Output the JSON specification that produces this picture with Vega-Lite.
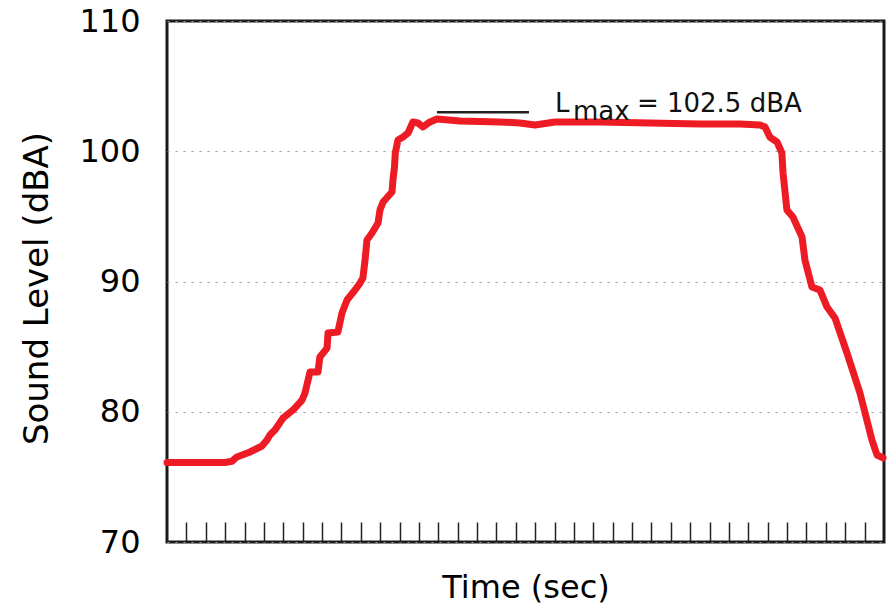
{
  "$schema": "https://vega.github.io/schema/vega-lite/v6.json",
  "width": 717,
  "height": 521,
  "autosize": {"type": "none"},
  "padding": {"left": 167, "top": 21, "right": 9, "bottom": 73},
  "background": "white",
  "config": {"view": {"stroke": "#1a1a1a", "strokeWidth": 3}, "font": "DejaVu Sans"},
  "datasets": {
    "curve": [
      {"t": 0, "v": 76.1}, {"t": 2.99, "v": 76.1}, {"t": 3.35, "v": 76.2}, {"t": 3.61, "v": 76.53},
      {"t": 4.28, "v": 76.91}, {"t": 4.9, "v": 77.37}, {"t": 5.16, "v": 77.83}, {"t": 5.31, "v": 78.21},
      {"t": 5.57, "v": 78.6}, {"t": 5.99, "v": 79.52}, {"t": 6.5, "v": 80.13}, {"t": 6.97, "v": 80.9},
      {"t": 7.12, "v": 81.44}, {"t": 7.38, "v": 83.05}, {"t": 7.79, "v": 83.05}, {"t": 7.89, "v": 84.2},
      {"t": 8.26, "v": 84.89}, {"t": 8.31, "v": 86.05}, {"t": 8.82, "v": 86.12}, {"t": 9.03, "v": 87.58},
      {"t": 9.29, "v": 88.58}, {"t": 9.7, "v": 89.35}, {"t": 9.96, "v": 89.88}, {"t": 10.11, "v": 90.27},
      {"t": 10.22, "v": 91.65}, {"t": 10.32, "v": 93.19}, {"t": 10.58, "v": 93.72}, {"t": 10.89, "v": 94.49},
      {"t": 10.99, "v": 95.49}, {"t": 11.15, "v": 96.1}, {"t": 11.61, "v": 96.87}, {"t": 11.66, "v": 97.79},
      {"t": 11.74, "v": 98.79}, {"t": 11.78, "v": 99.87}, {"t": 11.92, "v": 100.86}, {"t": 12.18, "v": 101.09},
      {"t": 12.44, "v": 101.4}, {"t": 12.69, "v": 102.25}, {"t": 12.95, "v": 102.17}, {"t": 13.21, "v": 101.86},
      {"t": 13.57, "v": 102.25}, {"t": 13.93, "v": 102.48}, {"t": 15.12, "v": 102.32}, {"t": 17.18, "v": 102.25},
      {"t": 18.21, "v": 102.17}, {"t": 18.99, "v": 102.02}, {"t": 20.02, "v": 102.25}, {"t": 22.34, "v": 102.25},
      {"t": 24.92, "v": 102.17}, {"t": 27.5, "v": 102.09}, {"t": 29.57, "v": 102.09}, {"t": 30.6, "v": 102.02},
      {"t": 30.86, "v": 101.86}, {"t": 31.11, "v": 101.09}, {"t": 31.48, "v": 100.71}, {"t": 31.73, "v": 99.87},
      {"t": 31.79, "v": 98.33}, {"t": 31.99, "v": 95.49}, {"t": 32.3, "v": 94.95}, {"t": 32.77, "v": 93.42},
      {"t": 32.92, "v": 91.65}, {"t": 33.28, "v": 89.58}, {"t": 33.69, "v": 89.35}, {"t": 34.06, "v": 88.04},
      {"t": 34.47, "v": 87.2}, {"t": 35.09, "v": 84.51}, {"t": 35.76, "v": 81.44}, {"t": 36.38, "v": 77.83},
      {"t": 36.64, "v": 76.68}, {"t": 36.95, "v": 76.45}
    ],
    "marker": [{"t": 13.93, "t2": 18.68, "v": 103.0}],
    "labels": [
      {"t": 20.02, "v": 103.04, "label": "L"},
      {"t": 24.25, "v": 103.04, "label": "= 102.5 dBA"}
    ],
    "sub": [{"t": 20.95, "v": 102.4, "label": "max"}]
  },
  "encoding": {
    "x": {
      "field": "t", "type": "quantitative",
      "scale": {"domain": [0, 37], "nice": false, "zero": false},
      "axis": {
        "title": "Time (sec)",
        "values": [1,2,3,4,5,6,7,8,9,10,11,12,13,14,15,16,17,18,19,20,21,22,23,24,25,26,27,28,29,30,31,32,33,34,35,36],
        "labels": false, "domain": false, "grid": false,
        "tickSize": -20, "tickColor": "#222", "tickWidth": 1.5,
        "titleFont": "DejaVu Sans", "titleFontSize": 32, "titleFontWeight": "normal", "titleColor": "#000",
        "titleY": 55, "titleBaseline": "alphabetic"
      }
    },
    "y": {
      "field": "v", "type": "quantitative",
      "scale": {"domain": [70, 110], "nice": false, "zero": false},
      "axis": {
        "title": "Sound Level (dBA)",
        "values": [70, 80, 90, 100, 110],
        "ticks": false, "domain": false,
        "labelPadding": 27, "labelFontSize": 32, "labelColor": "#000", "labelFont": "DejaVu Sans",
        "grid": true, "gridColor": "#999", "gridDash": [2, 6], "gridWidth": 1.2,
        "titleFont": "DejaVu Sans", "titleFontSize": 34, "titleFontWeight": "normal", "titleColor": "#000",
        "titleX": -120, "titleY": 267, "titleAngle": -90, "titleBaseline": "alphabetic", "titleAlign": "center"
      }
    }
  },
  "layer": [
    {
      "data": {"name": "curve"},
      "mark": {"type": "line", "color": "#ED1C24", "strokeWidth": 7, "strokeJoin": "round", "strokeCap": "round"}
    },
    {
      "data": {"name": "marker"},
      "mark": {"type": "rule", "color": "#222", "strokeWidth": 2.5},
      "encoding": {"x2": {"field": "t2"}}
    },
    {
      "data": {"name": "labels"},
      "mark": {"type": "text", "align": "left", "baseline": "alphabetic", "fontSize": 26, "color": "#111", "font": "DejaVu Sans"},
      "encoding": {"text": {"field": "label"}}
    },
    {
      "data": {"name": "sub"},
      "mark": {"type": "text", "align": "left", "baseline": "alphabetic", "fontSize": 26, "color": "#111", "font": "DejaVu Sans"},
      "encoding": {"text": {"field": "label"}}
    }
  ]
}
